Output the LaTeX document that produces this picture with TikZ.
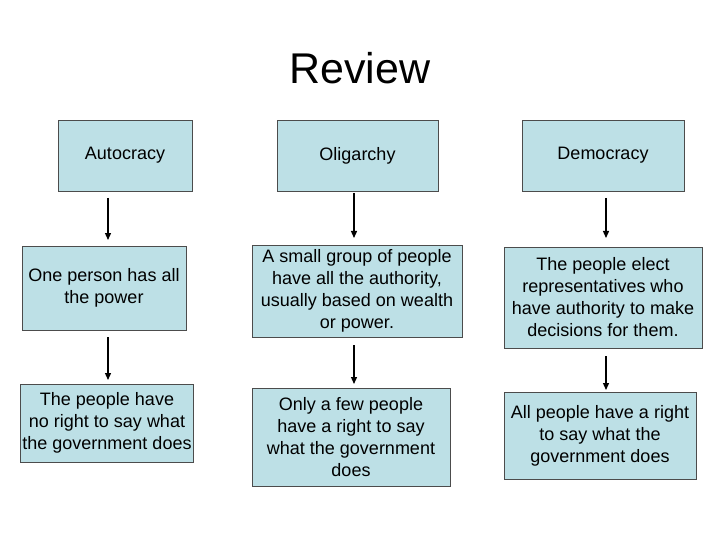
\documentclass[tikz,border=0pt]{standalone}
\usepackage{fontspec}
\setmainfont{Liberation Sans}
\usetikzlibrary{arrows.meta}
\begin{document}
\begin{tikzpicture}[x=1pt,y=-1pt,
  box/.style={draw=black!70,fill=boxblue,align=center,font=\fontsize{18}{22}\selectfont,inner sep=2pt},
  arr/.style={draw,line width=1.3pt,-{Triangle[length=7pt,width=6pt]}}]
\definecolor{boxblue}{HTML}{BDE0E6}
\useasboundingbox (0,0) rectangle (720,540);
\node[font=\fontsize{43}{47}\selectfont] (t) at (360,68) {Review};
\node[box,minimum width=134pt,minimum height=71pt] (a1) at (125,155.5) {Autocracy};
\node[box,minimum width=161pt,minimum height=71pt] (b1) at (357.5,155.5) {Oligarchy};
\node[box,minimum width=162pt,minimum height=71pt] (c1) at (603,155.5) {Democracy};
\node[box,minimum width=164pt,minimum height=84pt] (a2) at (104,288) {One person has all\\the power};
\node[box,minimum width=210pt,minimum height=92pt] (b2) at (357,291) {A small group of people\\have all the authority,\\usually based on wealth\\or power.};
\node[box,minimum width=198pt,minimum height=101pt] (c2) at (603,297.5) {The people elect\\representatives who\\have authority to make\\decisions for them.};
\node[box,minimum width=170pt,minimum height=78pt] (a3) at (107,423) {The people have\\no right to say what\\the government does};
\node[box,minimum width=198pt,minimum height=98pt] (b3) at (351,437) {Only a few people\\have a right to say\\what the government\\does};
\node[box,minimum width=192pt,minimum height=87pt] (c3) at (600,435.5) {All people have a right\\to say what the\\government does};
\draw[arr] (108,198) coordinate (p1) -- (108,240) coordinate (p2);
\draw[arr] (108,337) coordinate (p3) -- (108,380) coordinate (p4);
\draw[arr] (354,193) coordinate (q1) -- (354,238) coordinate (q2);
\draw[arr] (354,345) coordinate (q3) -- (354,384) coordinate (q4);
\draw[arr] (606,198) coordinate (r1) -- (606,238) coordinate (r2);
\draw[arr] (606,356) coordinate (r3) -- (606,390) coordinate (r4);
\end{tikzpicture}
\end{document}
